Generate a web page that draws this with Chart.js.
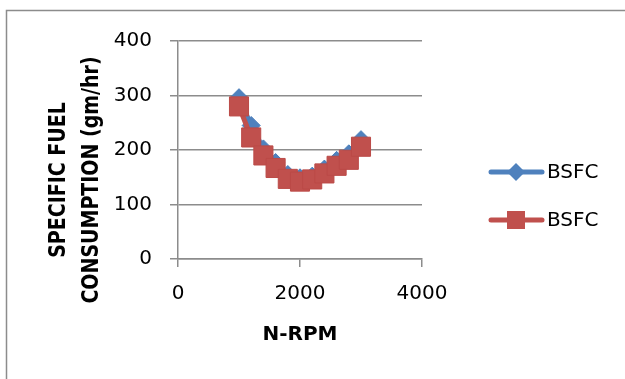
<!DOCTYPE html>
<html>
<head>
<meta charset="utf-8">
<script src="https://cdn.jsdelivr.net/npm/chart.js@4/dist/chart.umd.min.js"></script>
<style>
    html, body { margin: 0; padding: 0; background: #fff; }
    #wrap { width: 625px; height: 379px; }
</style>
</head>
<body>
<div id="wrap"><canvas id="bsfcChart" width="625" height="379"></canvas></div>
<script>
// engine speed (rpm) and brake specific fuel consumption for the two runs
const rpm = [1000, 1200, 1400, 1600, 1800, 2000, 2200, 2400, 2600, 2800, 3000];
const bsfcA = [296, 245, 202, 177, 155, 149, 152, 165, 181, 193, 219];
const bsfcB = [280, 223, 190, 167, 147, 142, 146, 157, 171, 182, 206];
const seriesNames = ['BSFC', 'BSFC'];
const xTicks = [0, 2000, 4000];
const yTicks = [0, 100, 200, 300, 400];
const yTitleLines = ['SPECIFIC FUEL', 'CONSUMPTION (gm/hr)'];
const xTitle = 'N-RPM';

const GRID = '#8c8c8c';
const BLUE = '#4F81BD';
const RED = '#C0504D';
const FONT = '"DejaVu Sans", sans-serif';

const toPoints = vals => rpm.map((r, i) => ({ x: r, y: vals[i] }));

// outer frame of the chart box
const framePlugin = {
    id: 'frame',
    beforeDraw(chart) {
        const ctx = chart.ctx;
        ctx.save();
        ctx.fillStyle = '#fff';
        ctx.fillRect(0, 0, chart.width, chart.height);
        ctx.strokeStyle = GRID;
        ctx.lineWidth = 1.5;
        ctx.strokeRect(6.5, 10.5, 800, 600);
        ctx.restore();
    }
};

// two-line rotated title for the value axis
const yTitlePlugin = {
    id: 'yTitle',
    afterDraw(chart) {
        const ctx = chart.ctx;
        const xs = [57.5, 90.5];
        ctx.save();
        ctx.fillStyle = '#000';
        ctx.font = 'bold 19px ' + FONT;
        ctx.textAlign = 'center';
        ctx.textBaseline = 'middle';
        yTitleLines.forEach((line, i) => {
            ctx.save();
            ctx.translate(xs[i], 180);
            ctx.rotate(-Math.PI / 2);
            ctx.scale(1, 1.2);
            ctx.fillText(line, 0, 1);
            ctx.restore();
        });
        ctx.restore();
    }
};

// legend: line with marker, then series name
const legendPlugin = {
    id: 'sideLegend',
    afterDraw(chart) {
        const ctx = chart.ctx;
        const rows = [172, 220];
        const cx = 516;
        chart.data.datasets.forEach((ds, i) => {
            const y = rows[i];
            ctx.save();
            ctx.strokeStyle = ds.borderColor;
            ctx.lineWidth = ds.borderWidth;
            ctx.lineCap = 'round';
            ctx.beginPath();
            ctx.moveTo(491, y);
            ctx.lineTo(542, y);
            ctx.stroke();

            const r = ds.legendRadius;
            ctx.fillStyle = ds.pointBackgroundColor;
            ctx.beginPath();
            if (ds.pointStyle === 'rectRot') {
                ctx.moveTo(cx, y - r);
                ctx.lineTo(cx + r, y);
                ctx.lineTo(cx, y + r);
                ctx.lineTo(cx - r, y);
                ctx.closePath();
            } else {
                ctx.rect(cx - r, y - r, 2 * r, 2 * r);
            }
            ctx.fill();

            ctx.fillStyle = '#000';
            ctx.font = '20px ' + FONT;
            ctx.textAlign = 'left';
            ctx.textBaseline = 'middle';
            ctx.fillText(ds.label, 547, y + 1);
            ctx.restore();
        });
    }
};

new Chart(document.getElementById('bsfcChart'), {
    type: 'line',
    data: {
        datasets: [
            {
                label: seriesNames[0],
                data: toPoints(bsfcA),
                borderColor: BLUE,
                borderWidth: 5,
                pointStyle: 'rectRot',
                pointRadius: 9,
                legendRadius: 9,
                pointBackgroundColor: BLUE,
                pointBorderColor: '#4A7EBB',
                pointBorderWidth: 1,
                order: 2
            },
            {
                label: seriesNames[1],
                data: toPoints(bsfcB),
                borderColor: RED,
                borderWidth: 5,
                pointStyle: 'rect',
                pointRadius: 13.5,
                legendRadius: 9,
                pointBackgroundColor: RED,
                pointBorderColor: '#BB4A47',
                pointBorderWidth: 1,
                order: 1
            }
        ]
    },
    options: {
        responsive: false,
        animation: false,
        layout: { padding: { left: 0, top: 41, right: 203, bottom: 0 } },
        plugins: {
            legend: { display: false },
            tooltip: { enabled: false }
        },
        scales: {
            x: {
                type: 'linear',
                min: xTicks[0],
                max: xTicks[xTicks.length - 1],
                afterBuildTicks: s => { s.ticks = xTicks.map(v => ({ value: v })); },
                afterFit: s => { s.height = 120; },
                grid: {
                    drawOnChartArea: false,
                    drawTicks: true,
                    tickLength: 8,
                    color: GRID,
                    lineWidth: 1.5
                },
                border: { color: GRID, width: 1.5 },
                ticks: {
                    padding: 15,
                    color: '#000',
                    font: { family: FONT, size: 20 },
                    maxRotation: 0,
                    callback: v => String(v)
                },
                title: {
                    display: true,
                    text: xTitle,
                    color: '#000',
                    font: { family: FONT, size: 20, weight: 'bold' },
                    padding: { top: 0, bottom: 32 }
                }
            },
            y: {
                type: 'linear',
                min: yTicks[0],
                max: yTicks[yTicks.length - 1],
                afterBuildTicks: s => { s.ticks = yTicks.map(v => ({ value: v })); },
                afterFit: s => { s.width = 178; },
                grid: {
                    drawTicks: true,
                    tickLength: 8,
                    color: GRID,
                    lineWidth: 1.5
                },
                border: { color: GRID, width: 1.5 },
                ticks: {
                    padding: 18,
                    color: '#000',
                    font: { family: FONT, size: 20 },
                    callback: v => String(v)
                }
            }
        }
    },
    plugins: [framePlugin, yTitlePlugin, legendPlugin]
});
</script>
</body>
</html>
